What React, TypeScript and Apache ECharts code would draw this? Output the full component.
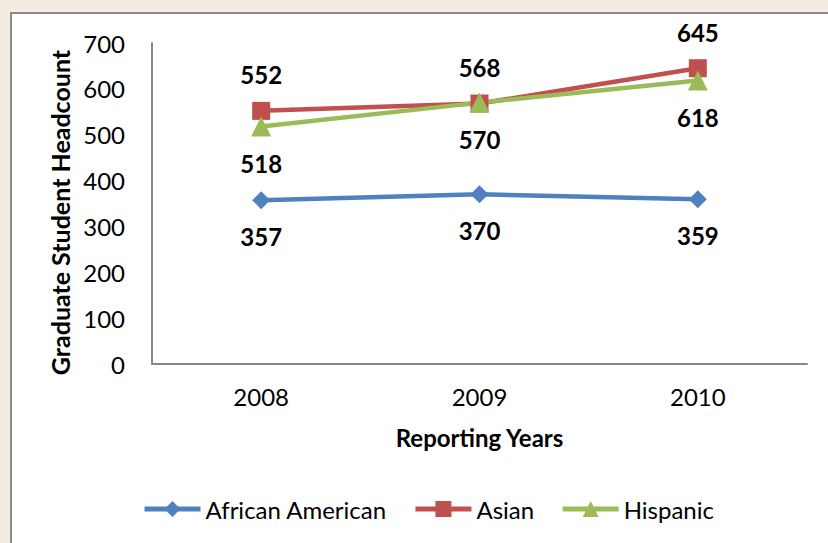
import React, { useEffect, useRef } from "react";
import * as echarts from "echarts";

const years = ["2008", "2009", "2010"];
const africanAmerican = [357, 370, 359];
const asian = [552, 568, 645];
const hispanic = [518, 570, 618];
const yTicks = { min: 0, max: 700, interval: 100 };

const FONT = "Lato";

export default function App() {
  const ref = useRef<HTMLDivElement>(null);
  useEffect(() => {
    if (!ref.current) return;
    const chart = echarts.init(ref.current, null, { renderer: "svg" });
    const labelStyle = {
      show: true,
      fontFamily: FONT,
      fontWeight: "bold" as const,
      fontSize: 24,
      color: "#000",
      distance: 15,
    };
    chart.setOption({
      animation: false,
      backgroundColor: "#F3ECE1",
      textStyle: { fontFamily: FONT },
      graphic: [
        {
          type: "rect",
          z: -10,
          silent: true,
          shape: { x: 11, y: 13, width: 840, height: 560 },
          style: { fill: "#ffffff", stroke: "#8a8a8a", lineWidth: 2 },
        },
      ],
      grid: { left: 152, top: 43, width: 655, height: 321, containLabel: false },
      xAxis: {
        type: "category",
        data: years,
        boundaryGap: true,
        axisLine: { show: true, lineStyle: { color: "#878787", width: 2 } },
        axisTick: { show: false },
        axisLabel: { fontFamily: FONT, fontSize: 24, color: "#000", margin: 20 },
        splitLine: { show: false },
        name: "Reporting Years",
        nameLocation: "middle",
        nameGap: 61,
        nameTextStyle: { fontFamily: FONT, fontWeight: "bold", fontSize: 24, color: "#000" },
      },
      yAxis: {
        type: "value",
        min: yTicks.min,
        max: yTicks.max,
        interval: yTicks.interval,
        axisLine: { show: true, lineStyle: { color: "#878787", width: 2 } },
        axisTick: { show: false },
        splitLine: { show: false },
        axisLabel: { fontFamily: FONT, fontSize: 24, color: "#000", margin: 27 },
        name: "Graduate Student Headcount",
        nameLocation: "middle",
        nameRotate: 90,
        nameGap: 77,
        nameTextStyle: {
          fontFamily: FONT,
          fontWeight: "bold",
          fontSize: 25,
          color: "#000",
          padding: [0, 18, 0, 0],
        },
      },
      legend: {
        left: 137,
        top: 492,
        itemWidth: 56,
        itemHeight: 20,
        itemGap: 26,
        lineStyle: { width: 5 },
        textStyle: { fontFamily: FONT, fontSize: 24, color: "#000" },
        data: ["African American", "Asian", "Hispanic"],
      },
      series: [
        {
          name: "African American",
          type: "line",
          data: africanAmerican,
          symbol: "diamond",
          symbolSize: 18,
          lineStyle: { color: "#4F81BD", width: 4.5 },
          itemStyle: { color: "#4F81BD" },
          label: { ...labelStyle, position: "bottom" },
        },
        {
          name: "Asian",
          type: "line",
          data: asian,
          symbol: "rect",
          symbolSize: 18,
          lineStyle: { color: "#C0504D", width: 4.5 },
          itemStyle: { color: "#C0504D" },
          label: { ...labelStyle, position: "top" },
        },
        {
          name: "Hispanic",
          type: "line",
          data: hispanic,
          symbol: "triangle",
          symbolSize: 20,
          lineStyle: { color: "#9BBB59", width: 4.5 },
          itemStyle: { color: "#9BBB59" },
          label: { ...labelStyle, position: "bottom" },
        },
      ],
    });
    return () => chart.dispose();
  }, []);
  return (
    <div
      ref={ref}
      style={{ position: "fixed", left: 0, top: 0, width: 828, height: 543 }}
    />
  );
}
